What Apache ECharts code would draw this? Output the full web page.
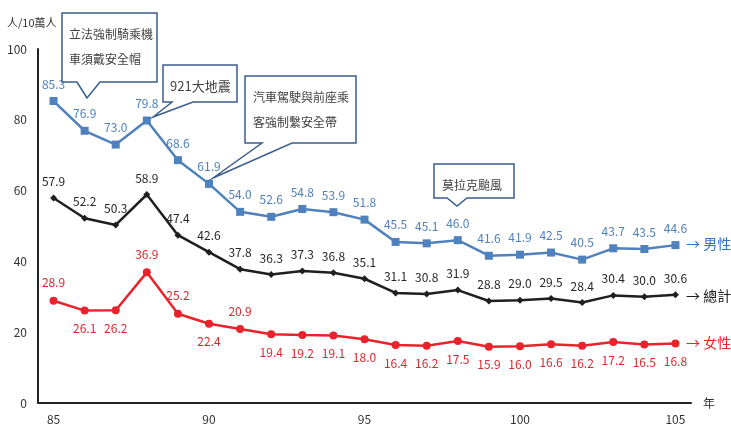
<!DOCTYPE html>
<html>
<head>
<meta charset="utf-8">
<script src="https://cdn.jsdelivr.net/npm/echarts@6/dist/echarts.min.js"></script>
<style>
  html, body { margin: 0; padding: 0; background: #fff; }
  #chart { width: 731px; height: 425px; }
</style>
</head>
<body>
<div id="chart"></div>
<script>
// 年度 (民國)
const years = ['85', '86', '87', '88', '89', '90', '91', '92', '93', '94', '95',
  '96', '97', '98', '99', '100', '101', '102', '103', '104', '105'];
// 每十萬人死亡率
const male = [85.3, 76.9, 73.0, 79.8, 68.6, 61.9, 54.0, 52.6, 54.8, 53.9, 51.8,
  45.5, 45.1, 46.0, 41.6, 41.9, 42.5, 40.5, 43.7, 43.5, 44.6];
const total = [57.9, 52.2, 50.3, 58.9, 47.4, 42.6, 37.8, 36.3, 37.3, 36.8, 35.1,
  31.1, 30.8, 31.9, 28.8, 29.0, 29.5, 28.4, 30.4, 30.0, 30.6];
const female = [28.9, 26.1, 26.2, 36.9, 25.2, 22.4, 20.9, 19.4, 19.2, 19.1, 18.0,
  16.4, 16.2, 17.5, 15.9, 16.0, 16.6, 16.2, 17.2, 16.5, 16.8];
// 女性標籤在點上方的年度
const femaleAbove = ['85', '88', '89', '91'];
const yTicks = [0, 20, 40, 60, 80, 100];

const numFont = '"Liberation Sans Narrow", "Noto Sans CJK TC", sans-serif';
const cjkFont = '"Noto Sans CJK TC", sans-serif';

const chart = echarts.init(document.getElementById('chart'), null, { renderer: 'canvas' });

function callout(points, lines, x, y, size) {
  return [
    {
      type: 'polygon',
      z: 100,
      shape: { points: points },
      style: { fill: '#fff', stroke: '#3b5e8c', lineWidth: 1.5 }
    },
    {
      type: 'text',
      z: 101,
      left: x,
      top: y,
      style: {
        text: lines.join('\n'),
        font: size + 'px ' + cjkFont,
        lineHeight: 25,
        fill: '#404040'
      }
    }
  ];
}

function endTag(y, color, label) {
  return {
    type: 'text',
    left: 686,
    top: y - 9,
    style: {
      text: '→ ' + label,
      font: '14px ' + cjkFont,
      fill: color
    }
  };
}

chart.setOption({
  animation: false,
  textStyle: { fontFamily: numFont },
  grid: { left: 38, right: 40, top: 49, bottom: 20, containLabel: false },
  xAxis: {
    type: 'category',
    data: years,
    boundaryGap: true,
    name: '年',
    nameGap: 12,
    nameTextStyle: { color: '#333', fontSize: 12, fontFamily: cjkFont, verticalAlign: 'middle' },
    axisLine: { lineStyle: { color: '#222', width: 2 } },
    axisTick: { show: false },
    axisLabel: { interval: 4, color: '#333', fontSize: 12, margin: 10 },
    splitLine: { show: false }
  },
  yAxis: {
    type: 'value',
    min: yTicks[0],
    max: yTicks[yTicks.length - 1],
    interval: 20,
    axisLine: { show: true, lineStyle: { color: '#222', width: 2 } },
    axisTick: { show: false },
    axisLabel: { color: '#333', fontSize: 12, margin: 11 },
    splitLine: { show: false }
  },
  series: [
    {
      name: '男性',
      type: 'line',
      data: male,
      symbol: 'rect',
      symbolSize: 8,
      lineStyle: { color: '#4f81bd', width: 2.5 },
      itemStyle: { color: '#4f81bd' },
      label: {
        show: true, position: 'top', distance: 7,
        color: '#4f81bd', fontSize: 12,
        formatter: p => p.value.toFixed(1)
      }
    },
    {
      name: '總計',
      type: 'line',
      data: total,
      symbol: 'diamond',
      symbolSize: 7,
      lineStyle: { color: '#1f1f1f', width: 2.5 },
      itemStyle: { color: '#1f1f1f' },
      label: {
        show: true, position: 'top', distance: 7,
        color: '#262626', fontSize: 12,
        formatter: p => p.value.toFixed(1)
      }
    },
    {
      name: '女性',
      type: 'line',
      data: female.map((v, i) => ({
        value: v,
        label: { position: femaleAbove.includes(years[i]) ? 'top' : 'bottom' }
      })),
      symbol: 'circle',
      symbolSize: 8,
      lineStyle: { color: '#e8232b', width: 2.5 },
      itemStyle: { color: '#e8232b' },
      label: {
        show: true, distance: 8,
        color: '#d9272e', fontSize: 12,
        formatter: p => p.value.toFixed(1)
      }
    }
  ],
  graphic: [
    {
      type: 'text', left: 7, top: 17,
      style: { text: '人/10萬人', font: '11px ' + cjkFont, fill: '#333' }
    },
    ...callout([[62, 13], [157, 13], [157, 82], [100, 82], [87, 98], [77, 82], [62, 82]],
      ['立法強制騎乘機', '車須戴安全帽'], 69, 22, 12),
    ...callout([[163, 65], [237, 65], [237, 102], [193, 102], [153, 117], [172, 102], [163, 102]],
      ['921大地震'], 170, 74, 13),
    ...callout([[245, 76], [356, 76], [356, 143], [292, 143], [213, 178], [262, 143], [245, 143]],
      ['汽車駕駛與前座乘', '客強制繫安全帶'], 253, 85, 12),
    ...callout([[434, 164], [514, 164], [514, 198], [467, 198], [457, 206], [447, 198], [434, 198]],
      ['莫拉克颱風'], 442, 173, 12),
    endTag(246, '#2e75c0', '男性'),
    endTag(298, '#1f1f1f', '總計'),
    endTag(345, '#e8232b', '女性')
  ]
});
</script>
</body>
</html>
